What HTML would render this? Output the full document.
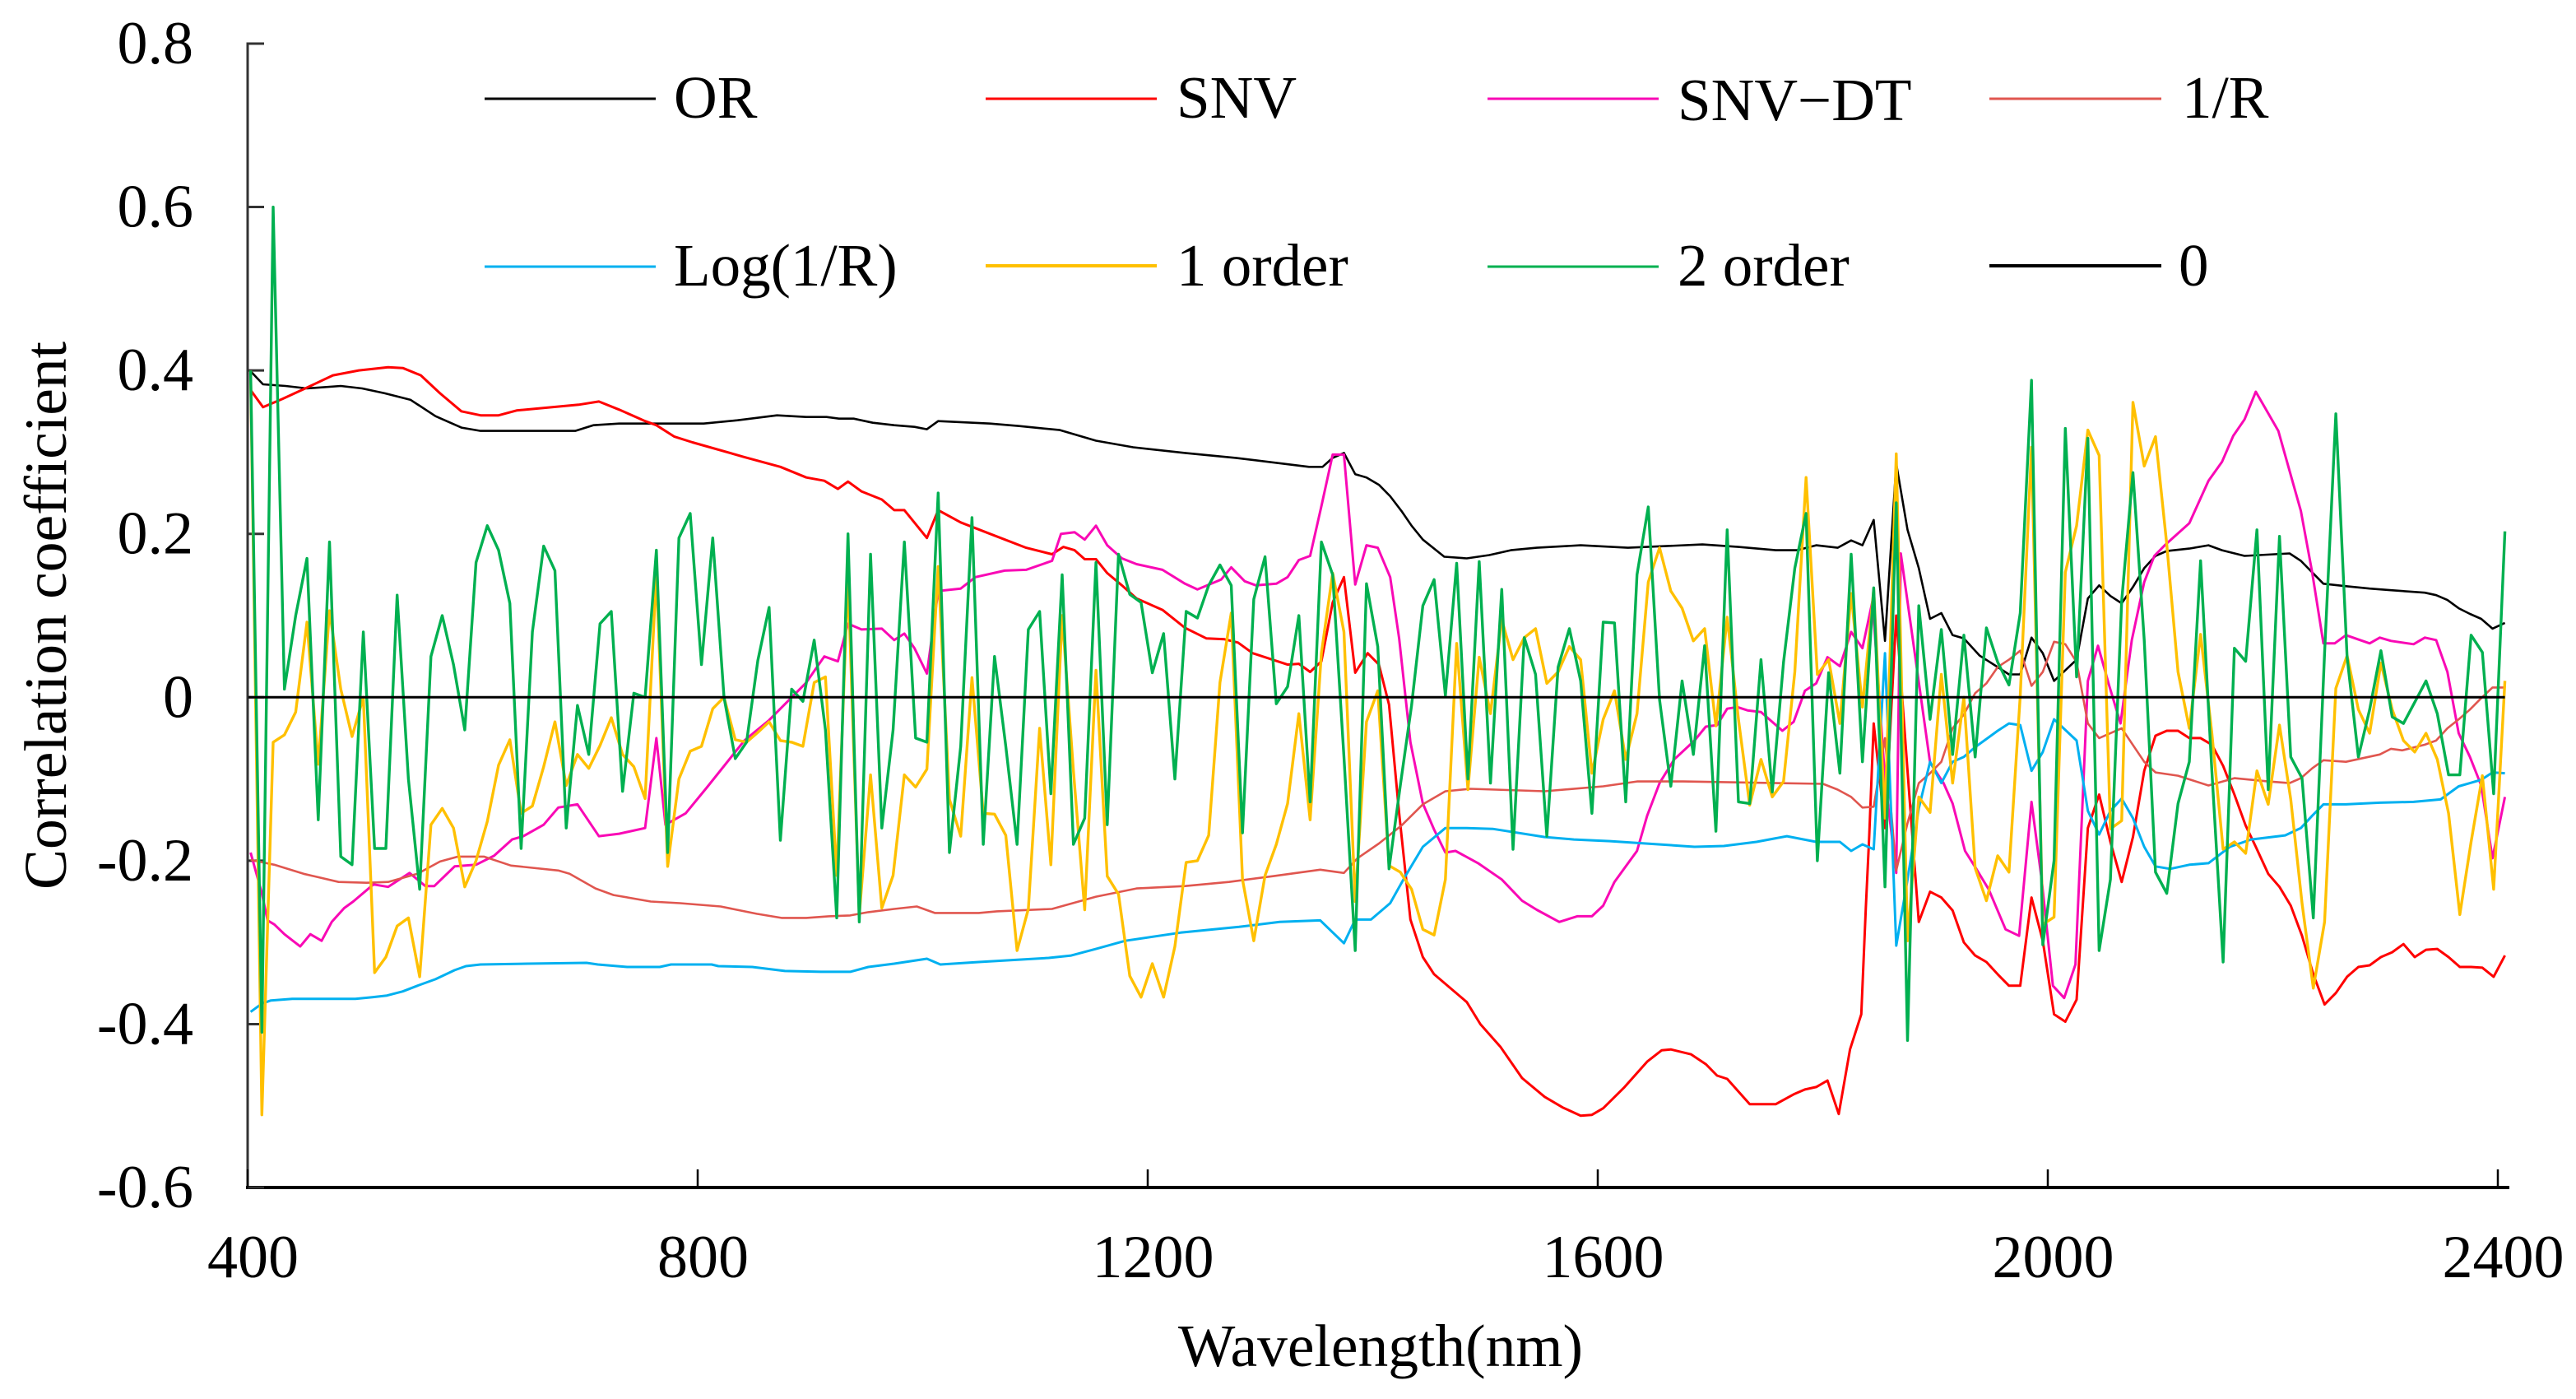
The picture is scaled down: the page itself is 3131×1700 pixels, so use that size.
<!DOCTYPE html>
<html lang="en">
<head>
<meta charset="utf-8">
<title>Correlation coefficient by wavelength</title>
<style>
html,body{margin:0;padding:0;background:#fff;}
svg{display:block;}
text{font-family:"Liberation Serif","Times New Roman",serif;fill:#000;}
</style>
</head>
<body>
<svg id="chart" xmlns="http://www.w3.org/2000/svg" width="3131" height="1700" viewBox="0 0 3131 1700">
  <rect x="0" y="0" width="3131" height="1700" fill="#fff"/>
  <g id="axes"></g>
  <g id="series"></g>
  <g id="legend">
    <line x1="589" y1="120" x2="797" y2="120" stroke="#000" stroke-width="3"/>
    <text x="819" y="143" font-size="73">OR</text>
    <line x1="1198" y1="120" x2="1406" y2="120" stroke="#ff0000" stroke-width="3"/>
    <text x="1430" y="143" font-size="73">SNV</text>
    <line x1="1808" y1="120" x2="2016" y2="120" stroke="#f909b5" stroke-width="3"/>
    <text x="2039" y="146" font-size="73">SNV−DT</text>
    <line x1="2418" y1="120" x2="2627" y2="120" stroke="#e0564f" stroke-width="3"/>
    <text x="2652" y="143" font-size="73">1/R</text>
    <line x1="589" y1="324" x2="797" y2="324" stroke="#00b0f0" stroke-width="3"/>
    <text x="819" y="347" font-size="73">Log(1/R)</text>
    <line x1="1198" y1="323" x2="1406" y2="323" stroke="#ffc000" stroke-width="4"/>
    <text x="1430" y="347" font-size="73">1 order</text>
    <line x1="1808" y1="324" x2="2016" y2="324" stroke="#00b050" stroke-width="3"/>
    <text x="2039" y="347" font-size="73">2 order</text>
    <line x1="2418" y1="323" x2="2627" y2="323" stroke="#000" stroke-width="4"/>
    <text x="2648" y="347" font-size="73">0</text>
  </g>
  <text x="1678" y="1660" font-size="73.5" text-anchor="middle">Wavelength(nm)</text>
  <text x="0" y="0" font-size="73.5" text-anchor="middle" transform="translate(80 748) rotate(-90)">Correlation coefficient</text>
</svg>
<script>
const xTickValues = [400, 800, 1200, 1600, 2000, 2400];
const xTickLabels = ['400', '800', '1200', '1600', '2000', '2400'];
const yTickValues = [0.8, 0.6, 0.4, 0.2, 0, -0.2, -0.4, -0.6];
const yTickLabels = ['0.8', '0.6', '0.4', '0.2', '0', '-0.2', '-0.4', '-0.6'];

const orWl = [400,411,431,450,480,499,519,542,564,587,604,688,704,727,802,832,867,
  893,911,922,935,952,971,989,1000,1010,1056,1082,1118,1150,1183,1229,1274,1339,1351,1360,1370,1380,1390,
  1401,1411,1421,1430,1440,1459,1479,1499,1518,1541,1580,1622,1688,1720,1753,1772,1789,1808,
  1820,1830,1840,1850,1860,1870,1880,1890,1900,1910,1920,1934,1950,1960,1970,1980,1990,2000,2020,2030,2040,2050,2060,2070,2080,2090,2100,2120,2137,2149,2169,2209,2219,2229,2239,2259,2280,2299,2329,2339,2349,2359,2369,2379,2389,2400];
const orValues = [.399,.383,.381,.378,.381,.378,.372,.364,.344,.33,.326,.326,.333,.335,.335,.339,.345,
  .343,.343,.341,.341,.336,.333,.331,.328,.338,.335,.332,.327,.314,.306,.299,.293,.282,.282,.293,.299,.273,.269,
  .26,.246,.228,.21,.193,.172,.17,.174,.18,.183,.186,.183,.187,.184,.18,.18,.186,.183,
  .192,.186,.217,.069,.286,.205,.158,.096,.103,.076,.072,.051,.037,.028,.028,.073,.054,.02,.046,.121,.137,.124,.115,.135,.158,.173,.179,.182,.186,.18,.173,.176,.167,.153,.139,.136,.133,.131,.128,.125,.119,.109,.102,.096,.084,.091];

const snvWl = [400,411,428,450,473,496,522,535,551,568,587,604,620,636,691,709,727,750,760,776,792,838,870,
  893,909,921,930,942,960,971,980,1000,1010,1030,1056,1088,1111,1121,1131,1140,1150,1160,1173,1186,1209,1229,1248,1264,1276,1289,1320,1330,1340,1350,1360,1370,1380,1391,1401,
  1410,1419,1429,1440,1450,1479,1491,1509,1528,1548,1564,1580,1590,1600,1619,1639,1652,1660,1678,1691,1701,1710,1730,1753,1769,1779,1789,1799,1809,1819,1829,1833,1836,1840,
  1850,1860,1870,1880,1890,1900,1910,1920,1930,1940,1950,1960,1970,1980,1990,2000,2010,2020,2030,2040,2050,2060,2070,2080,2090,2100,2110,2120,2130,2140,2150,2160,2170,2179,2190,2200,2210,2220,2230,2240,2250,2260,2270,2280,2290,2300,2310,2320,2330,2340,2350,2360,2370,2380,2390,2400];
const snvValues = [.376,.355,.365,.379,.394,.40,.404,.403,.394,.372,.35,.345,.345,.351,.358,.362,.352,.338,.333,.319,.312,.294,.282,
  .269,.265,.255,.264,.252,.242,.229,.229,.195,.229,.214,.20,.183,.175,.184,.18,.169,.169,.152,.137,.121,.107,.085,.072,.071,.067,.054,.04,.041,.031,.044,.116,.147,.03,.054,.04,
  -.009,-.142,-.272,-.318,-.339,-.373,-.40,-.428,-.466,-.489,-.502,-.512,-.511,-.503,-.477,-.446,-.432,-.431,-.437,-.449,-.463,-.467,-.498,-.498,-.486,-.48,-.477,-.469,-.51,-.431,-.388,-.258,-.171,-.032,
  -.16,.10,-.09,-.275,-.238,-.245,-.261,-.30,-.316,-.324,-.339,-.353,-.353,-.245,-.298,-.388,-.397,-.37,-.16,-.119,-.177,-.226,-.171,-.09,-.047,-.041,-.041,-.05,-.05,-.058,-.084,-.119,-.157,-.183,-.216,-.232,-.255,-.292,-.339,-.376,-.362,-.342,-.33,-.328,-.318,-.312,-.302,-.318,-.309,-.308,-.318,-.33,-.33,-.331,-.342,-.316];

const snvDtWl = [400,410,415,421,430,444,453,463,472,483,491,509,522,541,555,563,581,600,616,632,642,660,673,690,709,727,750,760,768,786,805,838,860,
  893,909,921,930,942,960,971,980,989,1000,1010,1030,1043,1069,1088,1111,1119,1131,1140,1150,1160,1173,1186,1209,1229,1240,1261,1270,1282,1292,1310,1320,1330,1340,1350,1360,1370,
  1380,1390,1400,1411,1419,1429,1440,1450,1460,1469,1489,1510,1528,1541,1561,1577,1590,1600,1610,1619,1630,1639,1650,1663,1681,1691,1701,1710,1719,1728,1740,1759,1769,1779,1789,1799,1810,1820,1830,1839,
  1850,1860,1864,1890,1902,1910,1921,1931,1942,1957,1969,1980,1989,1999,2009,2019,2030,2039,2049,2059,2069,2080,2089,2099,2120,2137,2149,2159,2169,2179,2199,2209,2219,2229,2239,2249,2259,2280,2289,2299,2319,2329,2339,2349,2359,2369,2379,2389,2400];
const snvDtValues = [-.19,-.24,-.273,-.278,-.29,-.305,-.29,-.298,-.275,-.258,-.25,-.229,-.232,-.215,-.231,-.231,-.207,-.205,-.194,-.174,-.17,-.156,-.135,-.131,-.17,-.167,-.16,-.05,-.156,-.142,-.11,-.053,-.028,
  .018,.05,.044,.09,.083,.084,.07,.078,.06,.029,.13,.133,.147,.155,.156,.167,.20,.202,.193,.21,.186,.17,.163,.156,.139,.132,.144,.159,.142,.137,.139,.147,.168,.173,.234,.297,.297,
  .138,.186,.183,.147,.072,-.055,-.13,-.162,-.19,-.188,-.203,-.223,-.249,-.26,-.275,-.268,-.268,-.255,-.226,-.209,-.188,-.145,-.105,-.076,-.053,-.036,-.034,-.014,-.012,-.016,-.018,-.041,-.03,.008,.017,.049,.038,.08,.06,.118,
  -.1,-.215,.176,-.08,-.105,-.13,-.188,-.21,-.235,-.284,-.292,-.128,-.223,-.353,-.368,-.327,.02,.063,.014,-.032,.07,.141,.173,.187,.213,.265,.288,.32,.34,.374,.326,.277,.228,.153,.066,.066,.076,.066,.073,.069,.065,.073,.07,.031,-.044,-.073,-.108,-.197,-.122];

const reciprocalWl = [400,421,447,478,503,522,548,568,584,607,631,673,683,706,722,755,781,817,849,871,
  893,913,932,948,971,991,1007,1046,1062,1111,1150,1186,1229,1268,1307,1349,1370,1382,1401,
  1421,1440,1460,1482,1548,1600,1630,1671,1795,1808,
  1820,1830,1840,1850,1860,1870,1880,1890,1900,1910,1920,1930,1940,1950,1960,1970,1980,1990,2000,2010,2020,2030,2040,2060,2080,2090,2110,2137,2160,2190,2209,2219,2229,2239,2259,2289,2299,2309,2329,2339,2349,2359,2369,2379,2389,2400];
const reciprocalValues = [-.199,-.205,-.216,-.226,-.227,-.226,-.216,-.201,-.195,-.195,-.206,-.212,-.216,-.234,-.242,-.25,-.252,-.256,-.265,-.27,
  -.27,-.268,-.267,-.263,-.259,-.256,-.264,-.264,-.262,-.259,-.244,-.234,-.231,-.226,-.219,-.211,-.215,-.197,-.179,
  -.157,-.131,-.115,-.112,-.115,-.109,-.103,-.103,-.106,-.113,
  -.122,-.135,-.134,-.05,-.212,-.154,-.105,-.093,-.079,-.038,-.021,.005,.017,.037,.046,.057,.014,.031,.068,.065,.043,-.032,-.05,-.038,-.079,-.092,-.096,-.108,-.099,-.103,-.105,-.099,-.087,-.077,-.079,-.07,-.063,-.065,-.058,-.053,-.038,-.027,-.015,-.001,.012,.012];

const logWl = [400,410,418,437,493,508,521,535,548,564,581,591,604,646,698,708,734,763,773,809,815,845,874,
  906,932,948,971,1000,1012,1046,1108,1128,1150,1176,1225,1277,1313,1349,1370,1380,1394,1411,1424,1440,1460,1479,1502,1548,1574,1606,1649,1681,1707,1736,1763,1789,1810,
  1820,1830,1840,1850,1860,1870,1880,1890,1900,1910,1920,1930,1950,1960,1970,1980,1990,2000,2020,2030,2040,2050,2060,2070,2080,2090,2103,2120,2137,2156,2175,2205,2219,2229,2239,2259,2289,2319,2343,2359,2369,2379,2389,2400];
const logValues = [-.385,-.375,-.371,-.369,-.369,-.367,-.365,-.36,-.353,-.345,-.334,-.329,-.327,-.326,-.325,-.327,-.33,-.33,-.327,-.327,-.329,-.33,-.335,
  -.336,-.336,-.33,-.326,-.32,-.327,-.324,-.319,-.316,-.308,-.298,-.288,-.281,-.275,-.273,-.301,-.272,-.272,-.252,-.22,-.183,-.16,-.16,-.161,-.171,-.174,-.176,-.18,-.183,-.182,-.177,-.17,-.177,-.177,
  -.188,-.18,-.186,.054,-.304,-.223,-.136,-.079,-.105,-.079,-.073,-.061,-.041,-.032,-.034,-.09,-.067,-.027,-.053,-.139,-.168,-.139,-.124,-.148,-.183,-.207,-.21,-.205,-.203,-.183,-.174,-.169,-.16,-.145,-.131,-.131,-.129,-.128,-.125,-.109,-.105,-.101,-.092,-.093];

/* 1 order and 2 order are sampled every 10 nm from 400 nm */
const firstOrderValues = [.40,-.511,-.055,-.046,-.018,.092,-.082,.106,.01,-.048,
  0,-.337,-.318,-.28,-.27,-.342,-.156,-.136,-.16,-.232,
  -.2,-.152,-.083,-.052,-.142,-.133,-.085,-.03,-.108,-.07,
  -.087,-.059,-.025,-.07,-.085,-.124,.152,-.207,-.10,-.066,
  -.06,-.014,0,-.052,-.055,-.043,-.03,-.053,-.055,-.06,
  .018,.025,-.218,.147,-.267,-.095,-.258,-.218,-.095,-.11,
  -.088,.16,-.125,-.17,.024,-.142,-.143,-.169,-.31,-.259,
  -.038,-.205,.10,-.09,-.26,.033,-.219,-.241,-.341,-.367,
  -.326,-.367,-.305,-.202,-.20,-.169,.018,.103,-.223,-.298,
  -.218,-.18,-.13,-.02,-.15,.054,.152,.08,-.25,-.03,
  .008,-.206,-.214,-.235,-.284,-.291,-.223,.066,-.113,.049,
  -.02,.095,.046,.073,.084,.017,.031,.062,.046,-.093,
  -.027,.008,-.076,-.02,.141,.183,.13,.109,.069,.084,
  -.035,.098,-.027,-.132,-.076,-.122,-.103,.031,.269,.028,
  .046,-.032,.127,-.012,.132,-.148,.298,-.298,-.122,-.141,
  .028,-.105,0,-.209,-.249,-.194,-.214,.002,.306,-.278,
  -.269,.153,.21,.327,.296,-.161,-.151,.361,.283,.319,
  .187,.031,-.038,.077,-.044,-.186,-.177,-.191,-.09,-.131,
  -.034,-.125,-.252,-.356,-.275,.011,.051,-.015,-.044,.042,
  -.015,-.053,-.067,-.044,-.076,-.142,-.266,-.177,-.096,-.235,.02];
const secondOrderValues = [.40,-.41,.60,.01,.10,.17,-.15,.19,-.195,-.205,
  .08,-.185,-.185,.125,-.10,-.235,.05,.10,.04,-.04,
  .165,.21,.18,.115,-.185,.08,.185,.155,-.16,-.01,
  -.07,.09,.105,-.115,.005,0,.18,-.19,.195,.225,
  .04,.195,0,-.075,-.055,.045,.11,-.175,.01,-.005,
  .07,-.04,-.27,.20,-.275,.175,-.16,-.04,.19,-.05,
  -.055,.25,-.19,-.06,.22,-.18,.05,-.06,-.18,.083,
  .105,-.118,.15,-.18,-.148,.165,-.156,.175,.126,.116,
  .03,.078,-.10,.105,.097,.137,.162,.137,-.166,.12,
  .172,-.008,.013,.10,-.128,.19,.15,-.073,-.31,.139,
  .062,-.21,-.108,-.01,.112,.144,.002,.164,-.10,.166,
  -.105,.132,-.186,.073,.028,-.17,.037,.084,.02,-.142,
  .092,.091,-.128,.15,.233,-.003,-.109,.02,-.07,.063,
  -.164,.205,-.128,-.13,.046,-.116,.043,.158,.225,-.20,
  .03,-.093,.175,-.079,.134,-.232,.238,-.42,.112,-.027,
  .083,-.07,.076,-.073,.085,.043,.015,.103,.388,-.303,
  -.2,.329,.025,.317,-.31,-.223,.118,.275,.07,-.214,
  -.24,-.13,-.079,.167,-.09,-.324,.06,.044,.205,-.113,
  .197,-.073,-.099,-.27,.054,.347,.049,-.073,-.015,.057,
  -.024,-.032,-.006,.02,-.02,-.095,-.095,.076,.055,-.118,.203];

const zeroWl = [398, 2400];
const zeroValues = [0, 0];

const SVG_NS = 'http://www.w3.org/2000/svg';
const DATA_X0 = 304.6, TICK_X0 = 301, DATA_PX_PER_NM = 1.37, TICK_PX_PER_NM = 1.3675;
const ZERO_Y = 847.3, PX_PER_UNIT = 992.9;

function xData(wl) { return DATA_X0 + (wl - 400) * DATA_PX_PER_NM; }
function xAxis(wl) { return TICK_X0 + (wl - 400) * TICK_PX_PER_NM; }
function yScale(v) { return ZERO_Y - v * PX_PER_UNIT; }
function denseWl(i) { return 400 + i * 10; }

const axesGroup = document.getElementById('axes');
const seriesGroup = document.getElementById('series');

function addLine(x1, y1, x2, y2, width, color, name) {
  const el = document.createElementNS(SVG_NS, 'line');
  el.setAttribute('x1', x1);
  el.setAttribute('y1', y1);
  el.setAttribute('x2', x2);
  el.setAttribute('y2', y2);
  el.setAttribute('stroke', color);
  el.setAttribute('stroke-width', width);
  
  
  axesGroup.appendChild(el);
}

function addLabel(x, y, anchor, content, name) {
  const el = document.createElementNS(SVG_NS, 'text');
  el.setAttribute('x', x);
  el.setAttribute('y', y);
  el.setAttribute('text-anchor', anchor);
  el.setAttribute('font-size', '74');
  el.textContent = content;
  
  
  axesGroup.appendChild(el);
}

function drawSeries(name, color, width, wls, values) {
  const points = values.map(function (v, i) {
    return xData(wls[i]).toFixed(1) + ',' + yScale(v).toFixed(1);
  }).join(' ');
  const el = document.createElementNS(SVG_NS, 'polyline');
  el.setAttribute('points', points);
  el.setAttribute('fill', 'none');
  el.setAttribute('stroke', color);
  el.setAttribute('stroke-width', width);
  el.setAttribute('stroke-linejoin', 'round');
  
  
  seriesGroup.appendChild(el);
}

addLine(301, yScale(0.8) - 1.5, 301, 1445, 3, '#333', 'y-axis-line');
addLine(299, 1443, 3050, 1443, 4, '#000', 'x-axis-line');

yTickValues.forEach(function (v, i) {
  addLine(301, yScale(v), 321, yScale(v), 3, '#333', 'y-tick');
  addLabel(235, yScale(v) + 24, 'end', yTickLabels[i], 'y-tick-label');
});
xTickValues.forEach(function (v, i) {
  addLine(xAxis(v), 1421, xAxis(v), 1443, 2.5, '#000', 'x-tick');
  addLabel(xAxis(v) + 6.5, 1552, 'middle', xTickLabels[i], 'x-tick-label');
});

drawSeries('series-or', '#000000', 2.6, orWl, orValues);
drawSeries('series-snv', '#ff0000', 3, snvWl, snvValues);
drawSeries('series-snv-dt', '#f909b5', 3, snvDtWl, snvDtValues);
drawSeries('series-reciprocal', '#e0564f', 2.6, reciprocalWl, reciprocalValues);
drawSeries('series-log-reciprocal', '#00b0f0', 3, logWl, logValues);
drawSeries('series-first-order', '#ffc000', 3.4, firstOrderValues.map(function (v, i) { return denseWl(i); }), firstOrderValues);
drawSeries('series-second-order', '#00b050', 3.4, secondOrderValues.map(function (v, i) { return denseWl(i); }), secondOrderValues);
drawSeries('series-zero-line', '#000000', 3, zeroWl, zeroValues);
</script>
</body>
</html>
